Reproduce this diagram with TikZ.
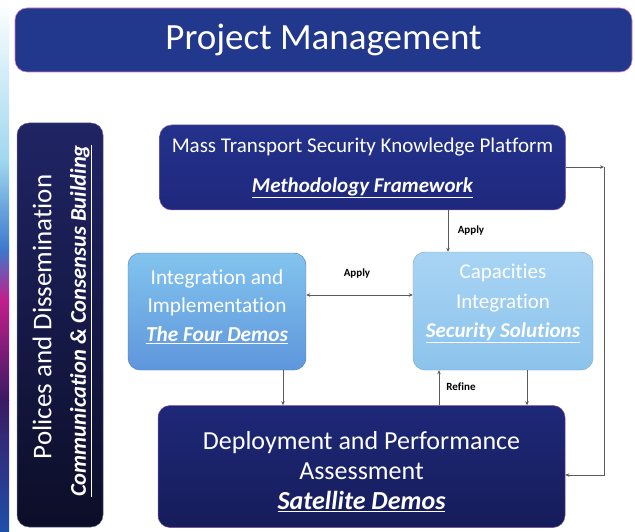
\documentclass[tikz,border=0pt]{standalone}
\usepackage{fontspec}
\setmainfont[Ligatures=NoCommon]{Carlito}
\usetikzlibrary{arrows.meta,calc}
\definecolor{bannerblue}{RGB}{34,56,140}
\definecolor{bannerrim}{RGB}{210,120,200}
\definecolor{topnavy}{RGB}{36,50,140}
\definecolor{topnavyb}{RGB}{30,40,125}
\definecolor{panelA}{RGB}{32,36,100}
\definecolor{panelB}{RGB}{12,14,40}
\definecolor{botA}{RGB}{30,40,120}
\definecolor{botB}{RGB}{22,28,90}
\definecolor{midLA}{RGB}{130,196,238}
\definecolor{midLB}{RGB}{95,150,220}
\definecolor{midRA}{RGB}{168,212,244}
\definecolor{midRB}{RGB}{140,195,236}
\definecolor{linegray}{RGB}{90,90,95}
\tikzset{
  box/.style={rounded corners=12pt, inner sep=0pt, text=white, align=center},
  conn/.style={draw=linegray, line width=0.8pt, -{Stealth[length=4pt,width=3.5pt]}},
  lbl/.style={font=\fontsize{11}{13}\selectfont\bfseries, text=black, inner sep=1pt},
}
\newcommand{\emu}[1]{\textbf{\textit{\underline{#1}}}}
\begin{document}
\begin{tikzpicture}[x=1pt,y=-1pt]
\useasboundingbox (0,0) rectangle (635,532);
% left colour stripe
\shade[top color=white, bottom color={rgb,255:red,160;green,215;blue,240}] (0,0) rectangle (9,160);
\shade[top color={rgb,255:red,160;green,215;blue,240}, bottom color={rgb,255:red,60;green,120;blue,205}] (0,160) rectangle (9,250);
\shade[top color={rgb,255:red,60;green,120;blue,205}, bottom color={rgb,255:red,195;green,30;blue,140}] (0,250) rectangle (9,300);
\shade[top color={rgb,255:red,195;green,30;blue,140}, bottom color={rgb,255:red,60;green,25;blue,100}] (0,300) rectangle (9,400);
\shade[top color={rgb,255:red,60;green,25;blue,100}, bottom color={rgb,255:red,30;green,80;blue,170}] (0,400) rectangle (9,532);

% banner
\node[box, fill=bannerblue, draw=bannerrim, line width=0.6pt, minimum width=617pt, minimum height=64pt,
      font=\fontsize{37}{42}\selectfont] (pm) at (323.5,40) {Project Management};

% left panel
\node[box, top color=panelA, bottom color=panelB, draw=panelA!70!white, line width=0.5pt,
      minimum width=86pt, minimum height=404pt] (panel) at (60,325) {};
\node[rotate=90, text=white, font=\fontsize{27}{31}\selectfont] (pol) at (42,317) {Polices and Dissemination};
\node[rotate=90, text=white, font=\fontsize{22.5}{26}\selectfont] (com) at (81,321) {\emu{Communication \& Consensus Building}};

% top box
\node[box, top color=topnavy, bottom color=topnavyb, draw=bannerrim!60!topnavy, line width=0.5pt,
      minimum width=406pt, minimum height=85pt] (mts) at (362.5,167.5) {};
\node[text=white, align=center, font=\fontsize{21}{40}\selectfont] (mtst) at (mts.center)
  {Mass Transport Security Knowledge Platform\\ \emu{Methodology Framework}};

% mid-left box
\node[box, shading=axis, shading angle=30, top color=midLA, bottom color=midLB, draw=midLB!80!black, line width=0.4pt,
      minimum width=178pt, minimum height=117pt] (ii) at (217,311.5) {};
\node[text=white, align=center, font=\fontsize{21.3}{28.5}\selectfont] (iit) at (217,306.5)
  {Integration and\\Implementation\\\emu{The Four Demos}};

% mid-right box
\node[box, top color=midRA, bottom color=midRB, draw=midRB!85!black, line width=0.4pt,
      minimum width=180pt, minimum height=118pt] (ci) at (503,311) {};
\node[text=white, align=center, font=\fontsize{21}{29.5}\selectfont] (cit) at (503,303.5)
  {Capacities\\Integration\\\emu{Security Solutions}};

% bottom box
\node[box, top color=botA, bottom color=botB, draw=bannerrim!50!botA, line width=0.5pt,
      minimum width=407pt, minimum height=122pt] (dp) at (361.5,466.5) {};
\node[text=white, align=center, font=\fontsize{26}{30}\selectfont] (dpt) at (361.5,472)
  {Deployment and Performance\\Assessment\\\emu{Satellite Demos}};

% connectors
\coordinate (c1) at (604,167);
\coordinate (c2) at (604,475);
\draw[conn] (mts.east |- c1) -- (c1);
\draw[conn] (c1) -- (c2) -- (dp.east |- c2);

\draw[conn] (mts.south -| 448,0) -- (ci.north -| 448,0);
\node[lbl] (ap1) at (471,231) {Apply};

\draw[draw=linegray, line width=0.8pt, {Stealth[length=4pt,width=3.5pt]}-{Stealth[length=4pt,width=3.5pt]}]
  (ii.east |- 0,295) -- (ci.west |- 0,295);
\node[lbl] (ap2) at (357,274) {Apply};

\draw[conn] (ii.south -| 283,0) -- (dp.north -| 283,0);
\draw[conn] (dp.north -| 439,0) -- (ci.south -| 439,0);
\node[lbl] (rf) at (461,387) {Refine};
\draw[conn] (ci.south -| 527,0) -- (dp.north -| 527,0);
\end{tikzpicture}
\end{document}
